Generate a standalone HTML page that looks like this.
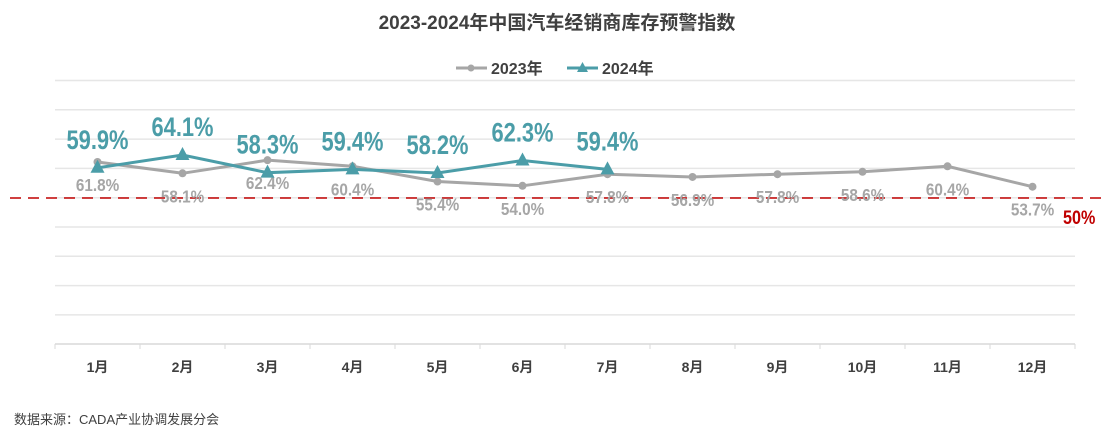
<!DOCTYPE html>
<html><head><meta charset="utf-8"><style>
body{margin:0;background:#fff;width:1115px;height:437px;overflow:hidden;font-family:"Liberation Sans","Noto Sans CJK SC",sans-serif}
svg text{font-family:"Liberation Sans","Noto Sans CJK SC",sans-serif}
.n{font-weight:bold}
</style></head><body>
<svg id="c" width="1115" height="437">
<text x="557" y="29" text-anchor="middle" font-size="19" font-weight="bold" fill="#404040">2023-2024年中国汽车经销商库存预警指数</text>
<g>
<g><line x1="456" y1="68" x2="487" y2="68" stroke="#a6a6a6" stroke-width="3"/><circle cx="471" cy="68" r="3.5" fill="#a6a6a6"/><text x="491" y="74" font-size="16" font-weight="bold" fill="#404040">2023年</text></g>
<g><line x1="567" y1="68" x2="598" y2="68" stroke="#4b9da8" stroke-width="3"/><path d="M582.5 62 L588 72 L577 72Z" fill="#4b9da8"/><text x="602" y="74" font-size="16" font-weight="bold" fill="#404040">2024年</text></g>
</g>
<g id="grid"></g>
<g id="axis"></g>
<line x1="10" y1="198" x2="1105" y2="198" stroke="#c00000" stroke-width="1.5" stroke-dasharray="11,7"/>
<text transform="translate(1063,224) scale(0.85,1)" class="n" font-size="19" fill="#c00000">50%</text>
<g id="s23"></g>
<g id="s24"></g>
<text x="14" y="424" font-size="13" fill="#404040">数据来源：CADA产业协调发展分会</text>
</svg>
<script>
const categories=["1月","2月","3月","4月","5月","6月","7月","8月","9月","10月","11月","12月"];
const values2023=[61.8,58.1,62.4,60.4,55.4,54.0,57.8,56.9,57.8,58.6,60.4,53.7];
const values2024=[59.9,64.1,58.3,59.4,58.2,62.3,59.4];
const NS="http://www.w3.org/2000/svg";
const x0=55,x1=1075,bw=(x1-x0)/categories.length;
const xs=i=>x0+bw*(i+0.5);
const ys=v=>198-(v-50)*3.05;
function mk(t,a,p){const e=document.createElementNS(NS,t);for(const k in a)e.setAttribute(k,a[k]);p.appendChild(e);return e;}
const grid=document.getElementById('grid');
for(let k=0;k<9;k++){const l=mk('line',{x1:x0,x2:x1,y1:80.5+k*29.3,y2:80.5+k*29.3,stroke:'#e6e6e6','stroke-width':1.5},grid);

}
const ax=document.getElementById('axis');
mk('line',{x1:x0,x2:x1,y1:344,y2:344,stroke:'#d9d9d9','stroke-width':1.5},ax);
categories.forEach((c,i)=>{
mk('line',{x1:x0+bw*i,x2:x0+bw*i,y1:344,y2:349,stroke:'#d9d9d9'},ax);
const t=mk('text',{x:xs(i),y:372,'text-anchor':'middle','font-size':14,'font-weight':'bold',fill:'#404040'},ax);t.textContent=c;

});
mk('line',{x1:x1,x2:x1,y1:344,y2:349,stroke:'#d9d9d9'},ax);
const g3=document.getElementById('s23');
mk('polyline',{points:values2023.map((v,i)=>xs(i)+','+ys(v)).join(' '),fill:'none',stroke:'#a6a6a6','stroke-width':3},g3);
values2023.forEach((v,i)=>{const c=mk('circle',{cx:xs(i),cy:ys(v),r:4,fill:'#a6a6a6'},g3);


const t=mk('text',{transform:`translate(${xs(i)},${ys(v)+29}) scale(0.85,1)`,'text-anchor':'middle','font-size':18,fill:'#a6a6a6',class:'n'},g3);t.textContent=v.toFixed(1)+'%';

});
const g4=document.getElementById('s24');
mk('polyline',{points:values2024.map((v,i)=>xs(i)+','+ys(v)).join(' '),fill:'none',stroke:'#4b9da8','stroke-width':3},g4);
values2024.forEach((v,i)=>{const X=xs(i),Y=ys(v);
const p=mk('path',{d:`M${X} ${Y-8} L${X+7} ${Y+5} L${X-7} ${Y+5}Z`,fill:'#4b9da8'},g4);


const t=mk('text',{transform:`translate(${X},${Y-19}) scale(0.81,1)`,'text-anchor':'middle','font-size':27,fill:'#4b9da8',class:'n'},g4);t.textContent=v.toFixed(1)+'%';

});
</script>
</body></html>
